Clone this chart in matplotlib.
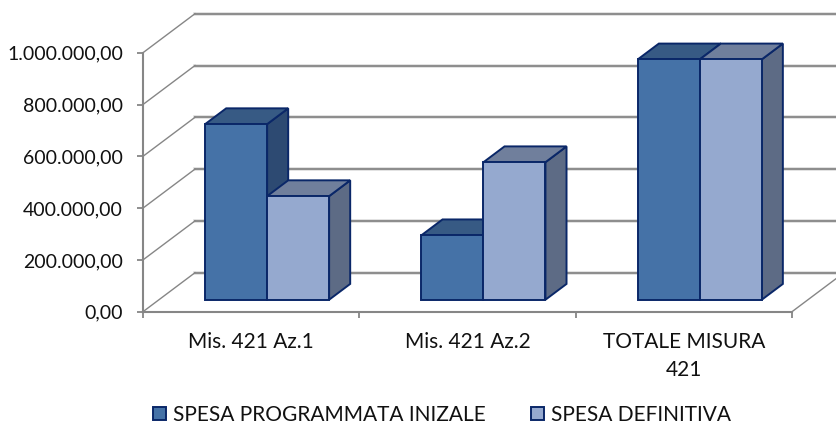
import matplotlib
matplotlib.use("Agg")
import matplotlib.pyplot as plt
from matplotlib.patches import Polygon, Patch
from matplotlib.ticker import FuncFormatter

categories = ["Mis. 421 Az.1", "Mis. 421 Az.2", "TOTALE MISURA\n421"]
programmata = [678000, 249000, 928000]
definitiva = [400000, 531000, 928000]
series_names = ["SPESA PROGRAMMATA INIZALE", "SPESA DEFINITIVA"]
value_ticks = [0, 200000, 400000, 600000, 800000, 1000000]

GRID = "#868686"
EDGE = "#0a2768"
STYLE = [
    {"front": "#4572A7", "top": "#375A84", "side": "#2D4A72"},
    {"front": "#95A9CF", "top": "#707F9C", "side": "#5D6B85"},
]

# depth projection: one unit of depth moves this much in data coords
DEPTH_X = 52 / 216.33
DEPTH_V = 39 / 259 * 1e6
BAR_W = 62 / 216.33
BAR_D0 = 0.307
BAR_D = 0.405


def proj(x, v, d):
    return (x + d * DEPTH_X, v + d * DEPTH_V)


def fmt_it(v, pos=None):
    return f"{v:,.2f}".replace(",", "X").replace(".", ",").replace("X", ".")


def draw_bar(ax, x0, x1, v, style):
    d0, d1 = BAR_D0, BAR_D0 + BAR_D
    side = [proj(x1, 0, d0), proj(x1, 0, d1), proj(x1, v, d1), proj(x1, v, d0)]
    top = [proj(x0, v, d0), proj(x1, v, d0), proj(x1, v, d1), proj(x0, v, d1)]
    front = [proj(x0, 0, d0), proj(x1, 0, d0), proj(x1, v, d0), proj(x0, v, d0)]
    for pts, key in ((side, "side"), (top, "top"), (front, "front")):
        ax.add_patch(Polygon(pts, closed=True, facecolor=style[key], edgecolor=EDGE,
                             linewidth=1.4, joinstyle="miter", clip_on=False, zorder=5))


plt.rcParams["font.family"] = ["Lato", "DejaVu Sans"]

fig = plt.figure(figsize=(8.37, 4.24), dpi=100, facecolor="white")
ax = fig.add_axes([143 / 837, (424 - 311.7) / 424, 649 / 837, 259 / 424])
ax.set_xlim(0, 3)
ax.set_ylim(0, 1000000)
ax.patch.set_visible(False)

# back wall and side wall
for v in value_ticks:
    ax.plot(*zip(proj(0, v, 1), proj(3, v, 1)), color="#dcdcdc", lw=2.6, clip_on=False, zorder=1)
    ax.plot(*zip(proj(0, v, 1), proj(3, v, 1)), color=GRID, lw=1.3, clip_on=False, zorder=2)
    ax.plot(*zip(proj(0, v, 0), proj(0, v, 1)), color=GRID, lw=1.0, clip_on=False, zorder=2)
ax.plot(*zip(proj(3, 0, 0), proj(3, 0, 1)), color=GRID, lw=1.0, clip_on=False, zorder=2)

for i in range(len(categories)):
    c = i + 0.5
    draw_bar(ax, c - BAR_W, c, programmata[i], STYLE[0])
    draw_bar(ax, c, c + BAR_W, definitiva[i], STYLE[1])

for s in ("top", "right"):
    ax.spines[s].set_visible(False)
for s in ("left", "bottom"):
    ax.spines[s].set_color(GRID)
    ax.spines[s].set_linewidth(1.5)

ax.set_yticks(value_ticks)
ax.yaxis.set_major_formatter(FuncFormatter(fmt_it))
ax.tick_params(axis="y", length=4.5, width=1.3, color=GRID, pad=10, labelsize=14, labelcolor="#111111")
ax.set_xticks([0, 1, 2, 3])
ax.set_xticklabels([])
ax.tick_params(axis="x", which="major", length=4.5, width=1.3, color=GRID)
ax.set_xticks([0.5, 1.5, 2.5], minor=True)
ax.set_xticklabels(categories, minor=True, fontsize=15, color="#111111", linespacing=1.5)
ax.tick_params(axis="x", which="minor", length=0, pad=14.5)

handles = [Patch(facecolor=STYLE[j]["front"], edgecolor=EDGE, linewidth=1.4, label=series_names[j])
           for j in range(2)]
fig.legend(handles=handles, ncol=2, frameon=False, loc="center",
           bbox_to_anchor=(442 / 837, 1 - 415 / 424), fontsize=15, labelcolor="#111111",
           handlelength=0.62, handleheight=0.62, handletextpad=0.36, columnspacing=2.16,
           borderpad=0, borderaxespad=0)

fig.savefig("out.png", dpi=100, facecolor="white")
